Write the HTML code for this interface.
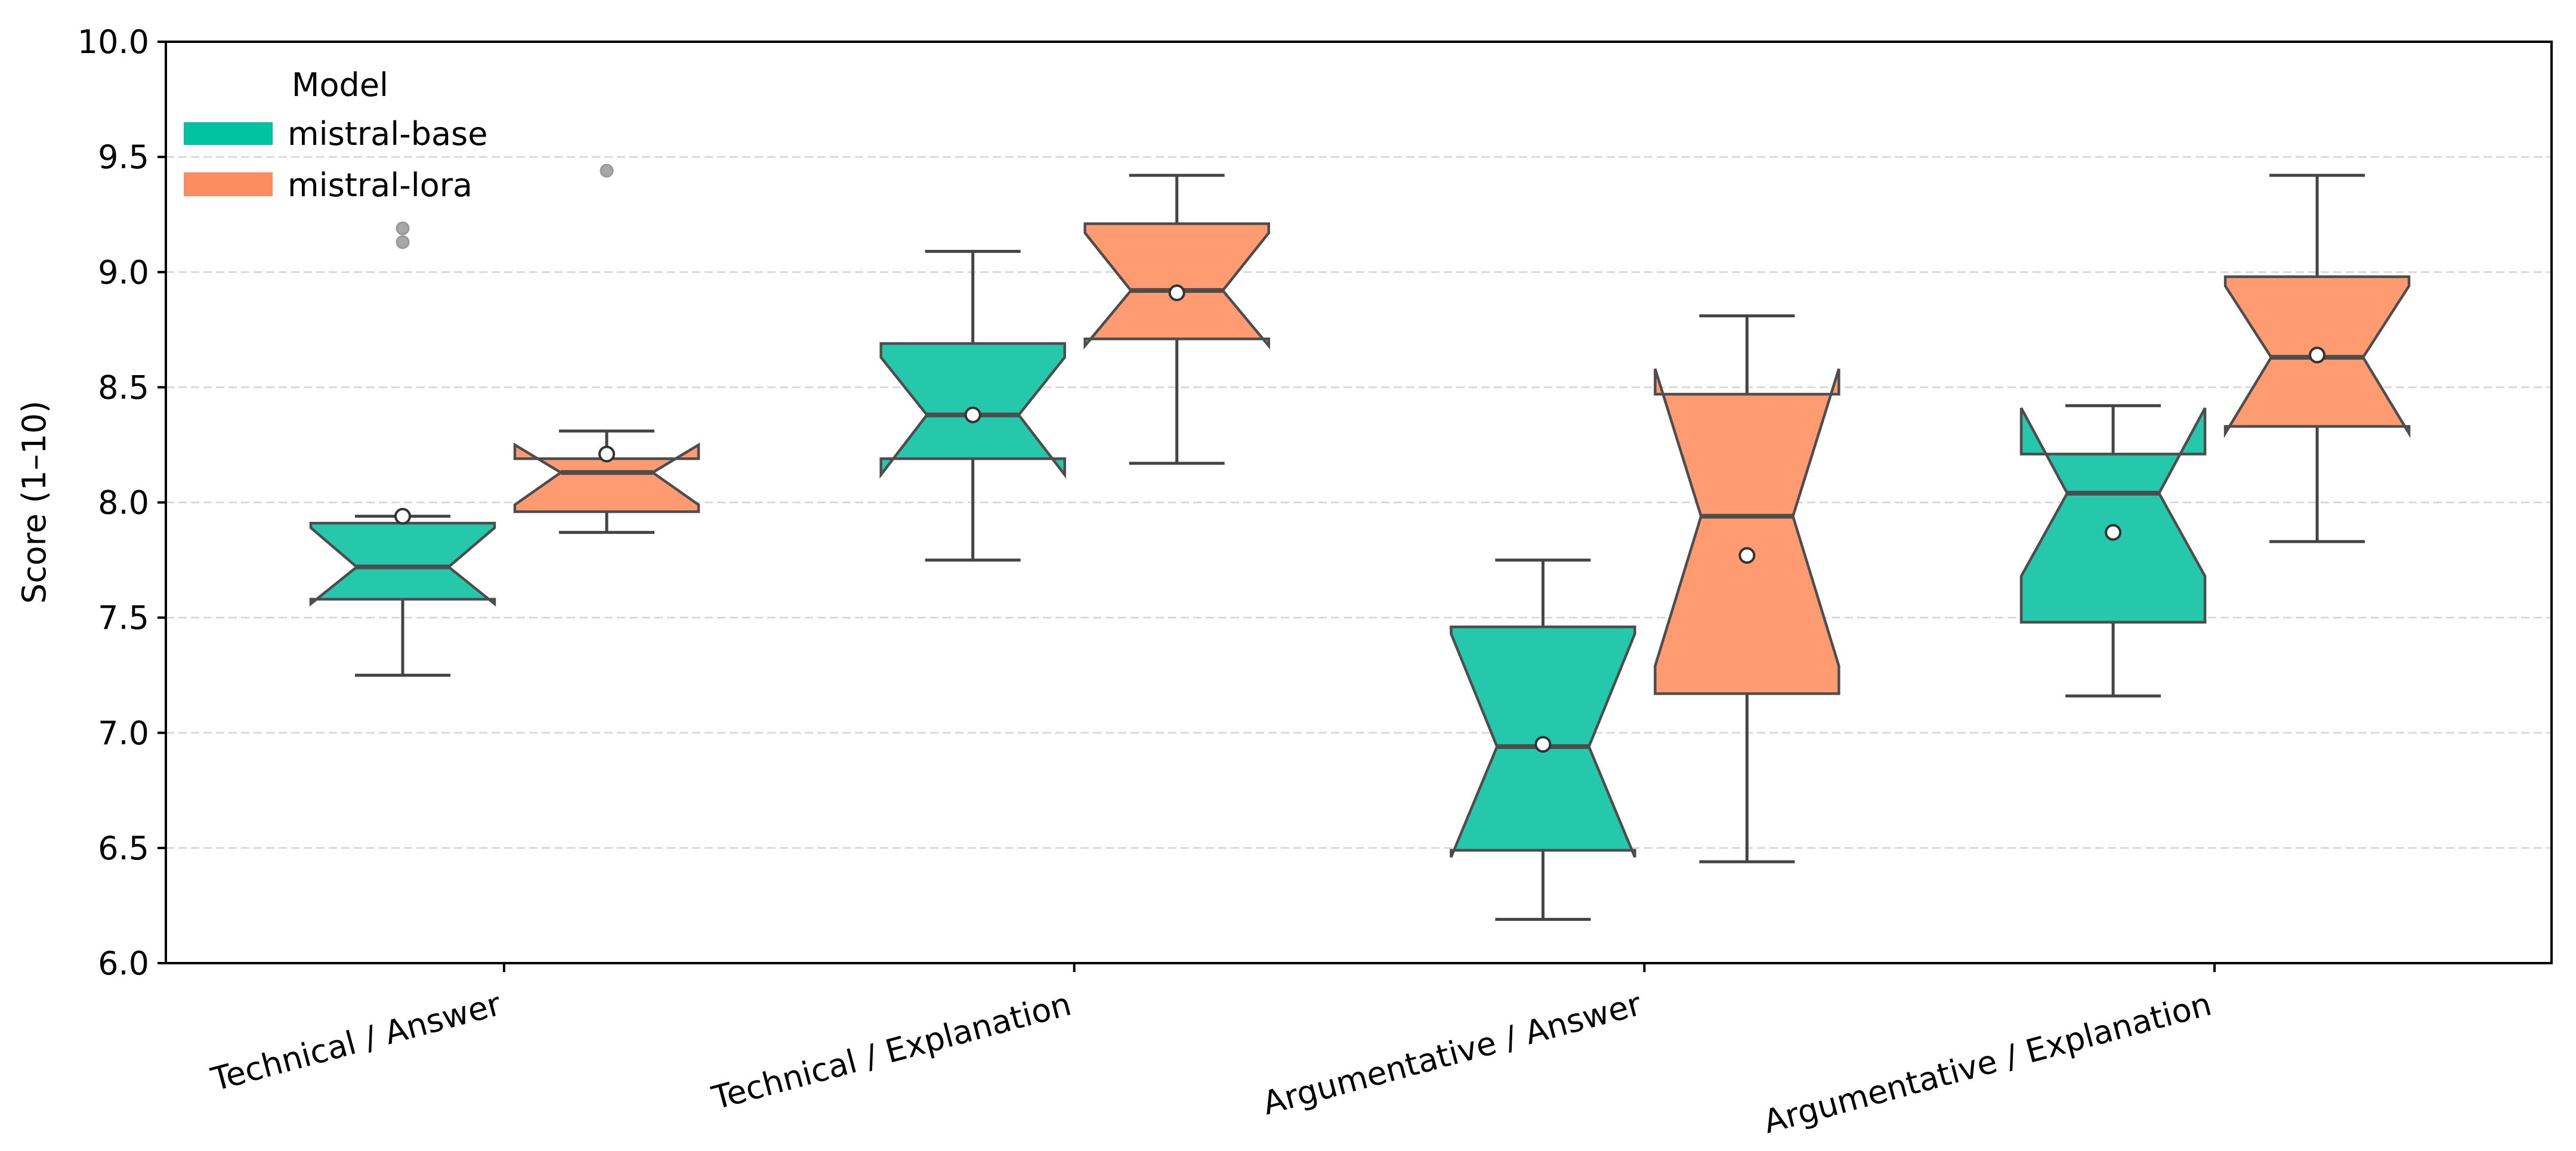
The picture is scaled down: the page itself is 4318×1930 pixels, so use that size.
<!DOCTYPE html>
<html><head><meta charset="utf-8"><style>
html,body{margin:0;padding:0;background:#fff}
svg{display:block;font-family:"DejaVu Sans","Liberation Sans",sans-serif}
</style></head><body>
<svg id="chart" width="4318" height="1930" viewBox="0 0 4318 1930" xmlns="http://www.w3.org/2000/svg">
<rect width="4318" height="1930" fill="#fff"/>
<g id="grid"></g>
<g id="boxes"></g>
<rect x="278" y="70" width="3999" height="1545" fill="none" stroke="#000" stroke-width="4"/>
<g id="yaxis"></g>
<g id="xaxis"></g>
<text transform="translate(76,842) rotate(-90)" text-anchor="middle" font-size="54">Score (1–10)</text>
<g>
<text x="570" y="161" text-anchor="middle" font-size="54">Model</text>
<rect x="308" y="205" width="149" height="38" fill="#00c2a0"/>
<text x="482" y="243" font-size="54">mistral-base</text>
<rect x="308" y="289" width="149" height="40" fill="#fc8d62"/>
<text x="482" y="329" font-size="54">mistral-lora</text>
</g>
</svg>
<script>
const categories = ["Technical / Answer","Technical / Explanation","Argumentative / Answer","Argumentative / Explanation"];
const models = ["mistral-base","mistral-lora"];
const whiskLo = [[7.25,7.87],[7.75,8.17],[6.19,6.44],[7.16,7.83]];
const q1 = [[7.58,7.96],[8.19,8.71],[6.49,7.17],[7.48,8.33]];
const medians = [[7.72,8.13],[8.38,8.92],[6.94,7.94],[8.04,8.63]];
const q3 = [[7.91,8.19],[8.69,9.21],[7.46,8.47],[8.21,8.98]];
const whiskHi = [[7.94,8.31],[9.09,9.42],[7.75,8.81],[8.42,9.42]];
const notchLo = [[7.56,7.99],[8.12,8.68],[6.46,7.29],[7.68,8.30]];
const notchHi = [[7.89,8.25],[8.63,9.17],[7.43,8.58],[8.41,8.94]];
const means = [[7.94,8.21],[8.38,8.91],[6.95,7.77],[7.87,8.64]];
const outliers = [[[9.19,9.13],[9.44]],[[],[]],[[],[]],[[],[]]];
const yTicks = ["6.0","6.5","7.0","7.5","8.0","8.5","9.0","9.5","10.0"];

const NS="http://www.w3.org/2000/svg";
const Y0=1615, PXU=386.25;
function y(v){return Y0-(v-6)*PXU;}
function xc(i){return 845+i*955.7;}
const OFF=[-170,172], BW=308;
const fills=["#26c8ab","#ff9b70"];
function mk(tag,attrs,parent){const e=document.createElementNS(NS,tag);for(const k in attrs)e.setAttribute(k,attrs[k]);parent.appendChild(e);return e;}
const grid=document.getElementById('grid'), yax=document.getElementById('yaxis'), xax=document.getElementById('xaxis'), boxes=document.getElementById('boxes');
yTicks.forEach(t=>{
  const v=parseFloat(t);
  if(v>6&&v<10){const g=mk('line',{x1:278,x2:4277,y1:y(v),y2:y(v),stroke:'#d4d4d4','stroke-width':2.5,'stroke-dasharray':'14,7'},grid);
  
  }
  const tk=mk('line',{x1:264,x2:278,y1:y(v),y2:y(v),stroke:'#000','stroke-width':4},yax);
  
  
  const tx=mk('text',{x:250,y:y(v)+19,'text-anchor':'end','font-size':54},yax);
  
  
  tx.textContent=t;
});
categories.forEach((c,i)=>{
  const x=xc(i);
  const tk=mk('line',{x1:x,x2:x,y1:1615,y2:1630,stroke:'#000','stroke-width':4},xax);
  
  
  const tx=mk('text',{transform:`translate(${x-2},${1700}) rotate(-15)`,'text-anchor':'end','font-size':54},xax);
  
  
  tx.textContent=c;
  models.forEach((m,j)=>{
    const cx=x+OFF[j], L=cx-BW/2, R=cx+BW/2, wl=cx-BW/4, wr=cx+BW/4;
    const g=mk('g',{},boxes);
    
    
    const ln={stroke:'#444','stroke-width':5};
    mk('line',Object.assign({x1:cx,x2:cx,y1:y(whiskLo[i][j]),y2:y(q1[i][j])},ln),g);
    mk('line',Object.assign({x1:cx,x2:cx,y1:y(whiskHi[i][j]),y2:y(q3[i][j])},ln),g);
    mk('line',Object.assign({x1:cx-80,x2:cx+80,y1:y(whiskLo[i][j]),y2:y(whiskLo[i][j])},ln),g);
    mk('line',Object.assign({x1:cx-80,x2:cx+80,y1:y(whiskHi[i][j]),y2:y(whiskHi[i][j])},ln),g);
    const pts=[[L,q1[i][j]],[L,notchLo[i][j]],[wl,medians[i][j]],[L,notchHi[i][j]],[L,q3[i][j]],[R,q3[i][j]],[R,notchHi[i][j]],[wr,medians[i][j]],[R,notchLo[i][j]],[R,q1[i][j]]];
    mk('polygon',{points:pts.map(p=>p[0]+','+y(p[1])).join(' '),fill:fills[j],stroke:'#4d4d4d','stroke-width':4.5,'stroke-linejoin':'miter'},g);
    mk('line',{x1:wl,x2:wr,y1:y(medians[i][j]),y2:y(medians[i][j]),stroke:'#4d4d4d','stroke-width':8},g);
    const mc=mk('circle',{cx:cx,cy:y(means[i][j]),r:12,fill:'#fff',stroke:'#333','stroke-width':4},g);
    
    
    outliers[i][j].forEach(o=>{
      const oc=mk('circle',{cx:cx,cy:y(o),r:10,fill:'#999',stroke:'#888','stroke-width':3,opacity:0.85},g);
      
      
    });
  });
});
</script>
</body></html>
